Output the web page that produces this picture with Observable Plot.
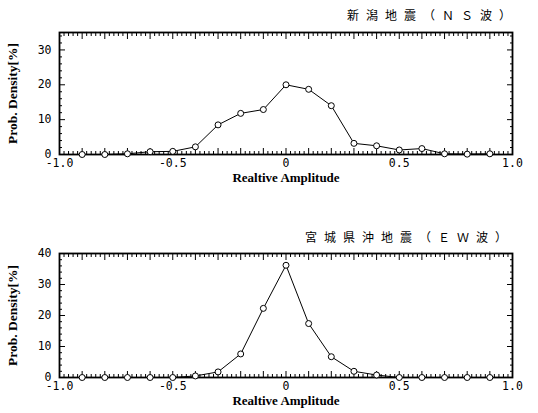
<!DOCTYPE html>
<html><head><meta charset="utf-8">
<script src="https://cdn.jsdelivr.net/npm/d3@7"></script>
<script src="https://cdn.jsdelivr.net/npm/@observablehq/plot@0.6"></script>
<style>
body{margin:0;background:#fff;}
#wrap{position:relative;width:538px;height:413px;overflow:hidden;background:#fff;}
#wrap svg{position:absolute;left:0;}
.ttl{position:absolute;font-family:"Noto Sans CJK JP";font-size:12px;line-height:17px;letter-spacing:7px;white-space:nowrap;color:#000;}
</style></head><body>
<div id="wrap"></div>
<script>
const amplitude = [-0.9,-0.8,-0.7,-0.6,-0.5,-0.4,-0.3,-0.2,-0.1,0,0.1,0.2,0.3,0.4,0.5,0.6,0.7,0.8,0.9];
const niigataNS = [0,0,0.2,0.8,0.9,2.2,8.5,11.8,12.9,20,18.7,14,3.2,2.5,1.3,1.7,0.2,0.1,0.2];
const miyagiEW  = [0,0,0,0,0,0.5,1.8,7.6,22.3,36.2,17.4,6.7,2.0,0.8,0,0,0,0,0];
const xTicks = [-1,-0.5,0,0.5,1];
const xTickLabels = ["-1.0","-0.5","0","0.5","1.0"];
const niigataYTicks = [0,10,20,30];
const miyagiYTicks = [0,10,20,30,40];
const niigataYMax = 35;
const miyagiYMax = 40;
const titles = ["新潟地震（ＮＳ波）","宮城県沖地震（ＥＷ波）"];
const xLabel = "Realtive Amplitude";
const yLabel = "Prob. Density[%]";

const W = 538, mL = 59, mR = 26;

function makePlot(values, yMax, yTicks, top, height, mT, mB) {
  const data = amplitude.map((a,i)=>({x:a, y:values[i]}));
  const xMinor = () => d3.range(-50,51).filter(i=>i%5!==0).map(i=>i/50);
  const xMid = () => d3.range(-10,11).map(i=>i/10);
  const yMinor = () => d3.range(0, yMax+0.001, 2).filter(d=>d%10!==0);
  const yMid = () => d3.range(0, yMax+0.001, 10);
  const blank = () => "";
  const tickAxis = (fn, opts) => fn({...opts, tickFormat: blank, label: null, stroke: "#000"});
  const p = Plot.plot({
    width: W, height, marginLeft: mL, marginRight: mR, marginTop: mT, marginBottom: mB,
    style: {fontFamily:"DejaVu Sans Mono", fontSize:"11.5px", color:"#000", background:"#fff"},
    x: {domain:[-1,1]},
    y: {domain:[0,yMax]},
    marks: [
      Plot.frame({stroke:"#000", strokeWidth:1.8}),
      tickAxis(Plot.axisX, {anchor:"bottom", ticks:xMinor(), tickSize:-3}),
      tickAxis(Plot.axisX, {anchor:"bottom", ticks:xMid(), tickSize:-6}),
      tickAxis(Plot.axisX, {anchor:"top", ticks:xMinor(), tickSize:-3}),
      tickAxis(Plot.axisX, {anchor:"top", ticks:xMid(), tickSize:-6}),
      tickAxis(Plot.axisY, {anchor:"left", ticks:yMinor(), tickSize:-3}),
      tickAxis(Plot.axisY, {anchor:"left", ticks:yMid(), tickSize:-6}),
      tickAxis(Plot.axisY, {anchor:"right", ticks:yMinor(), tickSize:-3}),
      tickAxis(Plot.axisY, {anchor:"right", ticks:yMid(), tickSize:-6}),
      Plot.line(data, {x:"x", y:"y", stroke:"#000", strokeWidth:1}),
      Plot.dot(data, {x:"x", y:"y", r:3, stroke:"#000", fill:"#fff", strokeWidth:1}),
      Plot.axisX({ticks:xTicks, tickFormat:(d)=>xTickLabels[xTicks.indexOf(d)], tickSize:0, tickPadding:4, label:null}),
      Plot.axisY({ticks:yTicks, tickSize:0, tickPadding:8, label:null}),
      Plot.text([xLabel], {text:d=>d, frameAnchor:"bottom", dy:27, fontFamily:"Liberation Serif", fontWeight:"bold", fontSize:13}),
      Plot.text([yLabel], {text:d=>d, frameAnchor:"left", textAnchor:"middle", dx:-47, rotate:-90, fontFamily:"Liberation Serif", fontWeight:"bold", fontSize:13.5})
    ]
  });
  p.style.top = top + "px";
  document.getElementById("wrap").appendChild(p);
}

makePlot(niigataNS, niigataYMax, niigataYTicks, 0, 200, 32, 46);
makePlot(miyagiEW, miyagiYMax, miyagiYTicks, 200, 213, 53, 36);

const t1 = document.createElement("div");
t1.className = "ttl"; t1.textContent = titles[0];
t1.style.left = "347px"; t1.style.top = "6px";
document.getElementById("wrap").appendChild(t1);
const t2 = document.createElement("div");
t2.className = "ttl"; t2.textContent = titles[1];
t2.style.left = "305px"; t2.style.top = "228px";
document.getElementById("wrap").appendChild(t2);
</script>
</body></html>
